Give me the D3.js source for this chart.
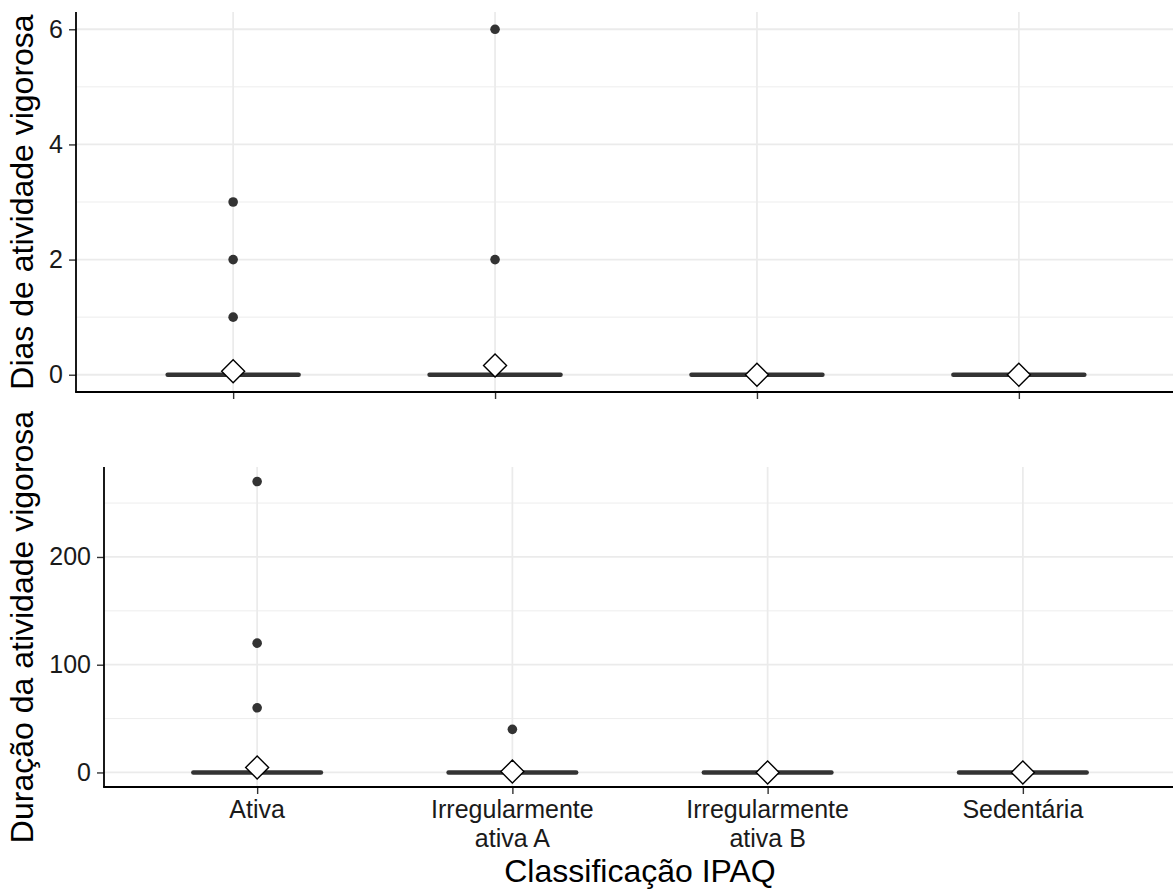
<!DOCTYPE html>
<html>
<head>
<meta charset="utf-8">
<script src="https://cdn.jsdelivr.net/npm/d3@7"></script>
<style>
  body { margin: 0; background: #fff; }
  svg { display: block; font-family: "Liberation Sans", Arial, sans-serif; }
  .grid line { stroke: #ebebeb; }
</style>
</head>
<body>
<div id="chart"></div>
<script>
const categories = ["Ativa", "Irregularmente ativa A", "Irregularmente ativa B", "Sedentária"];
const categoryLabels = [["Ativa"], ["Irregularmente", "ativa A"], ["Irregularmente", "ativa B"], ["Sedentária"]];

// Dias de atividade vigorosa
const diasMedian = [0, 0, 0, 0];
const diasMean = [0.06, 0.16, 0, 0];
const diasOutliers = [[1, 2, 3], [2, 6], [], []];
const diasTicks = [0, 2, 4, 6];
const diasMinor = [1, 3, 5];

// Duração da atividade vigorosa
const duracaoMedian = [0, 0, 0, 0];
const duracaoMean = [4.6, 0.8, 0, 0];
const duracaoOutliers = [[60, 120, 270], [40], [], []];
const duracaoTicks = [0, 100, 200];
const duracaoMinor = [50, 150, 250];

const width = 1173;
const height = 891;

const svg = d3.select("#chart")
  .append("svg")
  .attr("width", width)
  .attr("height", height);

function drawPanel(p) {
  const x = d3.scalePoint()
    .domain(categories)
    .range([p.left, p.right])
    .padding(0.6);

  const maxVal = d3.max(p.outliers.flat().concat(p.median));
  const pad = maxVal * 0.05;
  const y = d3.scaleLinear()
    .domain([-pad, maxVal + pad])
    .range([p.bottom, p.top]);

  const g = svg.append("g");

  // minor gridlines
  g.append("g")
    .attr("class", "grid")
    .selectAll("line")
    .data(p.minor)
    .join("line")
    .attr("x1", p.left).attr("x2", p.right)
    .attr("y1", d => y(d)).attr("y2", d => y(d))
    .attr("stroke-width", 0.9);

  // major gridlines
  g.append("g")
    .attr("class", "grid")
    .selectAll("line")
    .data(p.ticks)
    .join("line")
    .attr("x1", p.left).attr("x2", p.right)
    .attr("y1", d => y(d)).attr("y2", d => y(d))
    .attr("stroke-width", 1.8);

  g.append("g")
    .attr("class", "grid")
    .selectAll("line")
    .data(categories)
    .join("line")
    .attr("x1", d => x(d)).attr("x2", d => x(d))
    .attr("y1", p.top).attr("y2", p.bottom)
    .attr("stroke-width", 1.8);

  // boxes (all collapse to the median)
  const boxW = x.step() * 0.5;
  g.append("g")
    .selectAll("line")
    .data(categories)
    .join("line")
    .attr("x1", d => x(d) - boxW / 2)
    .attr("x2", d => x(d) + boxW / 2)
    .attr("y1", (d, i) => y(p.median[i]))
    .attr("y2", (d, i) => y(p.median[i]))
    .attr("stroke", "#333")
    .attr("stroke-width", 4.5)
    .attr("stroke-linecap", "round");

  // outliers
  const pts = p.outliers.flatMap((vals, i) => vals.map(v => ({ cat: categories[i], v })));
  g.append("g")
    .selectAll("circle")
    .data(pts)
    .join("circle")
    .attr("cx", d => x(d.cat))
    .attr("cy", d => y(d.v))
    .attr("r", 4.8)
    .attr("fill", "#333");

  // mean diamonds
  const s = 11.5;
  g.append("g")
    .selectAll("path")
    .data(categories)
    .join("path")
    .attr("d", (d, i) => {
      const cx = x(d), cy = y(p.mean[i]);
      return `M${cx},${cy - s}L${cx + s},${cy}L${cx},${cy + s}L${cx - s},${cy}Z`;
    })
    .attr("fill", "#fff")
    .attr("stroke", "#000")
    .attr("stroke-width", 1.4);

  // axes
  const yAxis = g.append("g")
    .attr("transform", `translate(${p.left},0)`)
    .call(d3.axisLeft(y).tickValues(p.ticks).tickFormat(d3.format("d")).tickSize(7).tickPadding(6));
  yAxis.select(".domain").remove();
  yAxis.attr("font-size", null).attr("font-family", null);
  yAxis.selectAll(".tick line").attr("stroke", "#333").attr("stroke-width", 1.4);
  yAxis.selectAll(".tick text")
    .style("font-size", "25px").attr("fill", "#1a1a1a");

  const xAxis = g.append("g")
    .attr("transform", `translate(0,${p.bottom})`)
    .call(d3.axisBottom(x).tickSize(7).tickFormat(""));
  xAxis.select(".domain").remove();
  xAxis.selectAll(".tick line").attr("stroke", "#333").attr("stroke-width", 1.4);

  if (p.showLabels) {
    const lab = g.append("g")
      .selectAll("text")
      .data(categories)
      .join("text")
      .attr("x", d => x(d))
      .attr("y", p.bottom + 31)
      .attr("text-anchor", "middle")
      .style("font-size", "25px")
      .attr("fill", "#1a1a1a");
    lab.each(function(d, i) {
      d3.select(this).selectAll("tspan")
        .data(categoryLabels[i])
        .join("tspan")
        .attr("x", x(d))
        .attr("dy", (t, j) => j === 0 ? 0 : 29)
        .text(t => t);
    });
  }

  // axis lines
  g.append("line")
    .attr("x1", p.left).attr("x2", p.left)
    .attr("y1", p.top).attr("y2", p.bottom)
    .attr("stroke", "#000").attr("stroke-width", 1.8);
  g.append("line")
    .attr("x1", p.left - 0.9).attr("x2", p.right)
    .attr("y1", p.bottom).attr("y2", p.bottom)
    .attr("stroke", "#000").attr("stroke-width", 1.8);

  // y title
  g.append("text")
    .attr("transform", `translate(33,${(p.top + p.bottom) / 2}) rotate(-90)`)
    .attr("text-anchor", "middle")
    .style("font-size", "32px")
    .attr("fill", "#000")
    .text(p.title);
}

drawPanel({
  left: 76, right: 1176, top: 12, bottom: 392,
  median: diasMedian, mean: diasMean, outliers: diasOutliers,
  ticks: diasTicks, minor: diasMinor,
  title: "Dias de atividade vigorosa", showLabels: false
});

drawPanel({
  left: 104, right: 1176, top: 467, bottom: 787,
  median: duracaoMedian, mean: duracaoMean, outliers: duracaoOutliers,
  ticks: duracaoTicks, minor: duracaoMinor,
  title: "Duração da atividade vigorosa", showLabels: true
});

svg.append("text")
  .attr("x", (104 + 1176) / 2)
  .attr("y", 882)
  .attr("text-anchor", "middle")
  .style("font-size", "32px")
  .attr("fill", "#000")
  .text("Classificação IPAQ");
</script>
</body>
</html>
